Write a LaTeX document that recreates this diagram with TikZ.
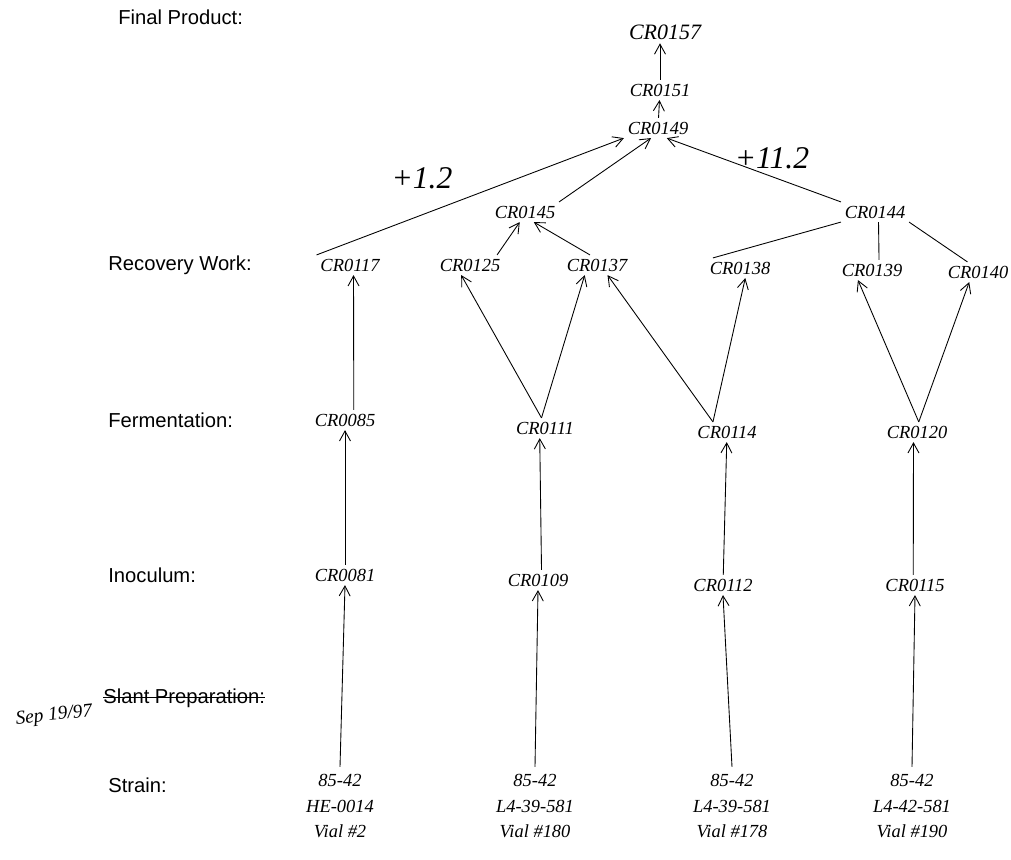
\documentclass[tikz,border=0pt]{standalone}
\usepackage{fontspec}
\setsansfont{Liberation Sans}
\newfontfamily\handfont{Liberation Serif}
\usetikzlibrary{arrows.meta,positioning}
\tikzset{
  semithin/.style={line width=0.5pt},
  flow/.style={-{Straight Barb[length=2mm,width=2.2mm]}, semithin, draw=black},
  link/.style={semithin, draw=black},
  lotnode/.style={font=\handfont\itshape\fontsize{10.5}{12}\selectfont, inner sep=2pt},
  stagelabel/.style={font=\sffamily\fontsize{11.5}{13}\selectfont, anchor=west, inner sep=0pt},
  strainbox/.style={font=\handfont\itshape\fontsize{10.5}{14.5}\selectfont, align=center, inner sep=2pt},
  factor/.style={font=\handfont\itshape\fontsize{18}{20}\selectfont}
}

\begin{document}
\begin{tikzpicture}[x=0.02cm, y=-0.02cm]

\useasboundingbox (0,0) rectangle (1011,859);

%--------------------------------------------------
% Stage labels (left column)
%--------------------------------------------------
\node[stagelabel] (lfinal)    at (118,17)  {Final Product:};
\node[stagelabel] (lrecovery) at (108,265) {Recovery Work:};
\node[stagelabel] (lferment)  at (108,420) {Fermentation:};
\node[stagelabel] (linoc)     at (108,575) {Inoculum:};
\node[stagelabel] (lslant)    at (103,698) {Slant Preparation:};
\node[stagelabel] (lstrain)   at (108,785) {Strain:};

% struck out stage and note
\draw[semithin] ([yshift=0.5pt]lslant.west) -- ([yshift=0.5pt]lslant.east);
\node[font=\handfont\itshape\fontsize{11}{12}\selectfont, rotate=6] (datenote) at (54,716) {Sep 19/97};

%--------------------------------------------------
% Final product chain
%--------------------------------------------------
\node[lotnode, font=\handfont\itshape\fontsize{12.5}{14}\selectfont] (c157) at (665,32) {CR0157};
\node[lotnode] (c151) at (660,90)  {CR0151};
\node[lotnode] (c149) at (658,128) {CR0149};

\draw[flow] (c151.north) -- (c151.north |- c157.south);
\draw[flow] (c149) -- (c151);

%--------------------------------------------------
% Recovery work
%--------------------------------------------------
\node[lotnode] (c145) at (525,212) {CR0145};
\node[lotnode] (c144) at (875,212) {CR0144};

\node[lotnode] (c117) at (350,265) {CR0117};
\node[lotnode] (c125) at (470,265) {CR0125};
\node[lotnode] (c137) at (597,265) {CR0137};
\node[lotnode] (c138) at (740,268) {CR0138};
\node[lotnode] (c139) at (872,270) {CR0139};
\node[lotnode] (c140) at (978,272) {CR0140};

\draw[flow] (c117.north west) -- (c149.south west);
\draw[flow] (c145.north east) -- ([xshift=-4pt]c149.south);
\draw[flow] (c144.north west) -- ([xshift=5pt]c149.south);

\node[factor] (fleft)  at (422,178) {+1.2};
\node[factor] (fright) at (772,158) {+11.2};

\draw[flow] ([xshift=-4pt]c125.north east) -- ([xshift=-3pt]c145.south);
\draw[flow] ([xshift=-4pt]c137.north) -- ([xshift=5pt]c145.south);

\draw[link] (c144.south west) -- ([xshift=4pt]c138.north west);
\draw[link] ([xshift=2pt]c144.south) -- ([xshift=4pt]c139.north);
\draw[link] (c144.south east) -- ([xshift=-6pt]c140.north);

%--------------------------------------------------
% Fermentation
%--------------------------------------------------
\node[lotnode] (c085) at (345,420) {CR0085};
\node[lotnode] (c111) at (545,428) {CR0111};
\node[lotnode] (c114) at (727,432) {CR0114};
\node[lotnode] (c120) at (917,432) {CR0120};

\draw[flow] ([xshift=5pt]c085.north) -- ([xshift=2pt]c117.south);

\draw[flow] ([xshift=-2pt]c111.north) -- ([xshift=-5pt]c125.south);
\draw[flow] ([xshift=-2pt]c111.north) -- ([xshift=-7pt]c137.south);
\draw[flow] ([xshift=-8pt]c114.north) -- ([xshift=6pt]c137.south);
\draw[flow] ([xshift=-8pt]c114.north) -- ([xshift=3pt]c138.south);
\draw[flow] ([xshift=1pt]c120.north) -- ([xshift=-8pt]c139.south);
\draw[flow] ([xshift=1pt]c120.north) -- ([xshift=-5pt]c140.south);

%--------------------------------------------------
% Inoculum
%--------------------------------------------------
\node[lotnode] (c081) at (345,575) {CR0081};
\node[lotnode] (c109) at (538,580) {CR0109};
\node[lotnode] (c112) at (723,585) {CR0112};
\node[lotnode] (c115) at (915,585) {CR0115};

\draw[flow] (c081) -- (c085);
\draw[flow] ([xshift=2pt]c109.north) -- ([xshift=-3pt]c111.south);
\draw[flow] (c112) -- (c114);
\draw[flow] ([xshift=-1pt]c115.north) -- ([xshift=-2pt]c120.south);

%--------------------------------------------------
% Strains
%--------------------------------------------------
\node[strainbox] (s1) at (340,806) {85-42\\HE-0014\\Vial \#2};
\node[strainbox] (s2) at (535,806) {85-42\\L4-39-581\\Vial \#180};
\node[strainbox] (s3) at (732,806) {85-42\\L4-39-581\\Vial \#178};
\node[strainbox] (s4) at (912,806) {85-42\\L4-42-581\\Vial \#190};

\draw[flow] ([yshift=2pt]s1.north) -- (c081.south);
\draw[flow] ([yshift=2pt]s2.north) -- (c109.south);
\draw[flow] ([yshift=2pt]s3.north) -- (c112.south);
\draw[flow] ([yshift=2pt]s4.north) -- (c115.south);

\end{tikzpicture}
\end{document}
